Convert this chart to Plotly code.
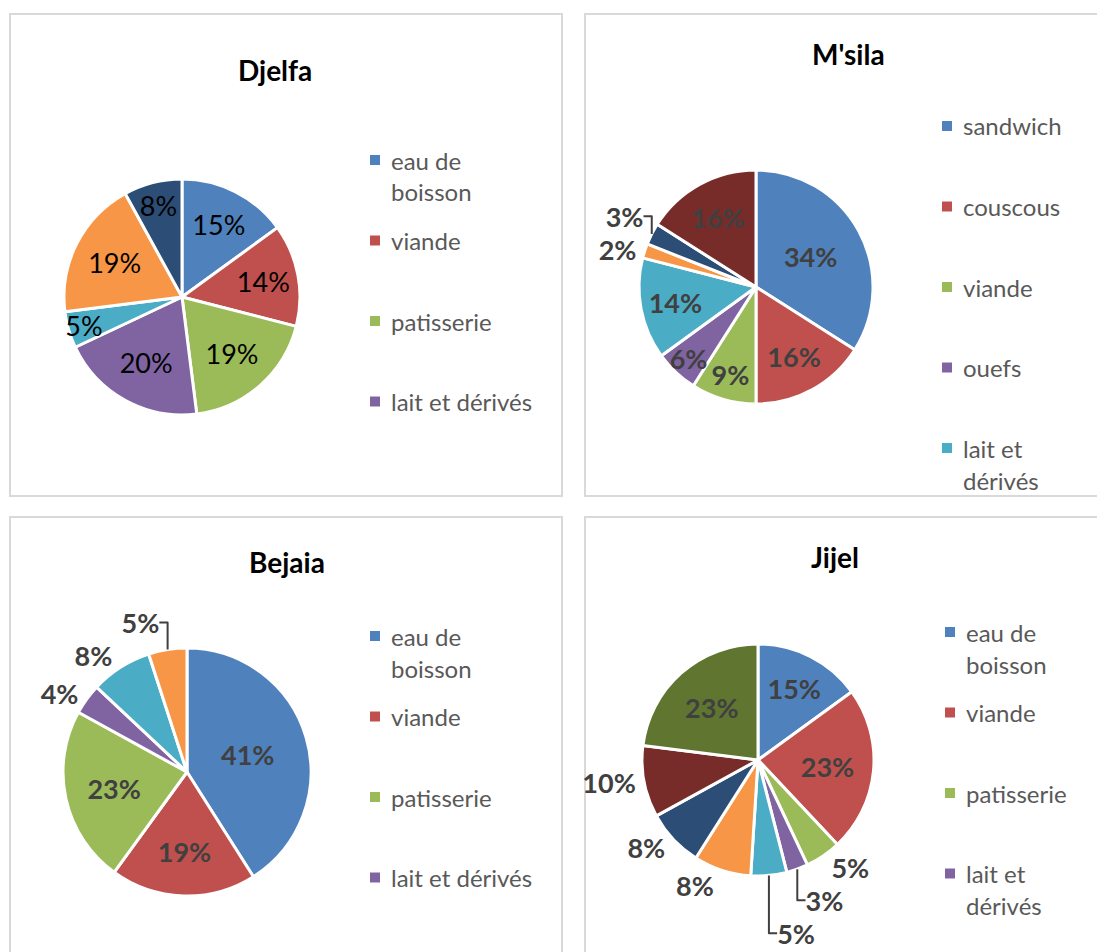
import plotly.graph_objects as go

# ---- data -------------------------------------------------------------
djelfa_labels = ["eau de boisson", "viande", "patisserie", "lait et dérivés",
                 "oeufs", "sandwich", "couscous"]
djelfa_values = [15, 14, 19, 20, 5, 19, 8]

msila_labels = ["sandwich", "couscous", "viande", "ouefs", "lait et dérivés",
                "eau de boisson", "patisserie", "poisson"]
msila_values = [34, 16, 9, 6, 14, 2, 3, 16]

bejaia_labels = ["eau de boisson", "viande", "patisserie", "lait et dérivés",
                 "oeufs", "sandwich"]
bejaia_values = [41, 19, 23, 4, 8, 5]

jijel_labels = ["eau de boisson", "viande", "patisserie", "lait et dérivés",
                "oeufs", "sandwich", "couscous", "poisson", "pizza"]
jijel_values = [15, 23, 5, 3, 5, 8, 8, 10, 23]

# ---- style ------------------------------------------------------------
W, H = 1097, 952
FONT = "Lato"
LABEL_SIZE = 27
PALETTE = ["#4F81BD", "#C0504D", "#9BBB59", "#8064A2", "#4BACC6",
           "#F79646", "#2C4D75", "#772C2A", "#5F7530"]


def px(x):
    return x / W


def py(y):
    return 1 - y / H


BOLD_LABEL = dict(family=FONT, size=LABEL_SIZE, color="#404040", weight="bold")

panels = [
    dict(title="Djelfa", labels=djelfa_labels, values=djelfa_values,
         box=(10, 14, 562, 496), title_xy=(275, 70),
         center=(182, 297), r=118,
         textpos=["inside"] * 7,
         label_font=dict(family=FONT, size=LABEL_SIZE, color="#000000"),
         outside_size=LABEL_SIZE,
         legend_n=4, legend_x=375, legend_y0=160, legend_wrap={0}),
    dict(title="M'sila", labels=msila_labels, values=msila_values,
         box=(585, 14, 1110, 496), title_xy=(848, 54),
         center=(756, 287), r=117,
         textpos=["inside"] * 5 + ["outside", "outside", "inside"],
         label_font=BOLD_LABEL, outside_size=LABEL_SIZE,
         legend_n=5, legend_x=947, legend_y0=126, legend_wrap={4}),
    dict(title="Bejaia", labels=bejaia_labels, values=bejaia_values,
         box=(10, 517, 562, 970), title_xy=(287, 562),
         center=(187, 772), r=124,
         textpos=["inside"] * 3 + ["outside"] * 3,
         label_font=BOLD_LABEL, outside_size=LABEL_SIZE,
         legend_n=4, legend_x=375, legend_y0=636, legend_wrap={0}),
    dict(title="Jijel", labels=jijel_labels, values=jijel_values,
         box=(585, 517, 1110, 970), title_xy=(835, 557),
         center=(758, 760), r=116,
         textpos=["inside", "inside"] + ["outside"] * 6 + ["inside"],
         label_font=BOLD_LABEL, outside_size=24,
         legend_n=4, legend_x=950, legend_y0=632, legend_wrap={0, 3}),
]

LEGEND_STEP = 80.5
WRAP_STEP = 32

fig = go.Figure()
shapes, annotations = [], []


def split_two(label):
    words = label.split(" ")
    return [" ".join(words[:2]), " ".join(words[2:])]


for p in panels:
    x0, y0, x1, y1 = p["box"]
    shapes.append(dict(type="rect", xref="paper", yref="paper",
                       x0=px(x0), x1=px(x1), y0=py(y1), y1=py(y0),
                       line=dict(color="#D9D9D9", width=2), layer="below"))

    cx, cy = p["center"]
    r = p["r"]
    vals = p["values"]
    out_font = dict(p["label_font"])
    out_font["size"] = p["outside_size"]
    fig.add_trace(go.Pie(
        labels=p["labels"], values=vals,
        text=[f"{v}%" for v in vals], textinfo="text",
        textposition=p["textpos"],
        textfont=p["label_font"], outsidetextfont=out_font,
        insidetextorientation="horizontal",
        sort=False, direction="clockwise", rotation=0,
        marker=dict(colors=PALETTE[:len(vals)],
                    line=dict(color="white", width=3)),
        domain=dict(x=[px(cx - r), px(cx + r)], y=[py(cy + r), py(cy - r)]),
        showlegend=False, hoverinfo="label+percent",
    ))

    tx, ty = p["title_xy"]
    annotations.append(dict(text=f"<b>{p['title']}</b>", x=px(tx), y=py(ty),
                            xref="paper", yref="paper", showarrow=False,
                            xanchor="center", yanchor="middle",
                            font=dict(family=FONT, size=28, color="#000000")))

    # legend: coloured square followed by the category name
    lx = p["legend_x"]
    for i in range(p["legend_n"]):
        yy = p["legend_y0"] + i * LEGEND_STEP
        shapes.append(dict(type="rect", xref="paper", yref="paper",
                           x0=px(lx - 5), x1=px(lx + 5),
                           y0=py(yy + 5), y1=py(yy - 5),
                           fillcolor=PALETTE[i], line=dict(width=0)))
        lines = split_two(p["labels"][i]) if i in p["legend_wrap"] else [p["labels"][i]]
        for k, line in enumerate(lines):
            annotations.append(dict(text=line, x=px(lx + 14),
                                    y=py(yy + k * WRAP_STEP),
                                    xref="paper", yref="paper", showarrow=False,
                                    xanchor="left", yanchor="middle",
                                    font=dict(family=FONT, size=24, color="#595959")))

fig.update_layout(
    width=W, height=H,
    margin=dict(l=0, r=0, t=0, b=0, autoexpand=False),
    paper_bgcolor="white", plot_bgcolor="white",
    shapes=shapes, annotations=annotations,
    uniformtext=dict(minsize=LABEL_SIZE, mode="show"),
)

fig.write_html("out.html")
